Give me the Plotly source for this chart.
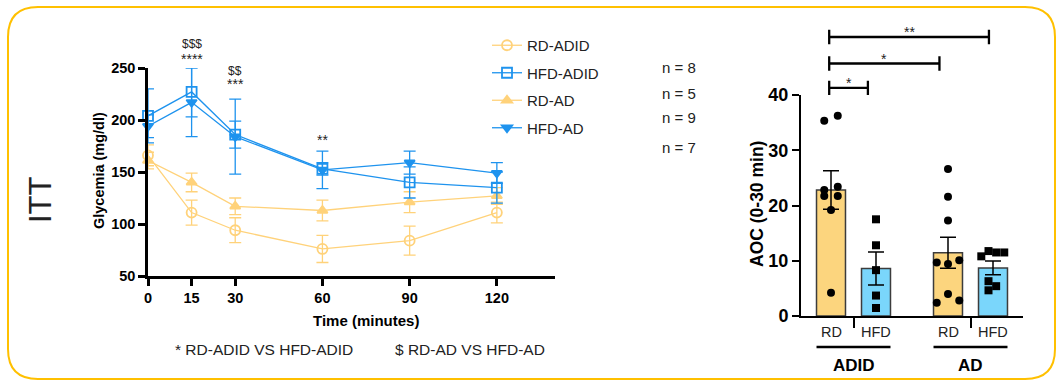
import plotly.graph_objects as go

# ---------------- data: ITT time course ----------------
time_min = [0, 15, 30, 60, 90, 120]
time_ticks = [0, 15, 30, 60, 90, 120]
glyc_ticks = [50, 100, 150, 200, 250]

rd_adid = [166, 111, 94, 76, 84, 111]
rd_adid_sem = [10, 12, 12, 13, 14, 10]
hfd_adid = [204, 227, 186, 153, 140, 135]
hfd_adid_sem = [26, 24, 13, 6, 15, 15]
rd_ad = [161, 140, 117, 113, 121, 127]
rd_ad_sem = [8, 9, 8, 10, 10, 8]
hfd_ad = [194, 217, 184, 152, 159, 149]
hfd_ad_sem = [11, 33, 36, 18, 11, 10]

series_names = ["RD-ADID", "HFD-ADID", "RD-AD", "HFD-AD"]
n_labels = ["n = 8", "n = 5", "n = 9", "n = 7"]

# significance marks above time points
sig_times = [15, 15, 30, 30, 60]
sig_text = ["****", "$$$", "***", "$$", "**"]

# ---------------- data: AOC bars ----------------
aoc_sub = ["RD", "HFD", "RD", "HFD"]
aoc_group = ["ADID", "AD"]
aoc_mean = [22.8, 8.6, 11.45, 8.7]
aoc_sem = [3.5, 3.0, 2.8, 1.25]
aoc_ticks = [0, 10, 20, 30, 40]
pts_rd_adid = [35.35, 36.25, 22.8, 23.4, 21.7, 21.7, 19.2, 4.2]
pts_hfd_adid = [17.5, 12.8, 8.3, 3.7, 1.45]
pts_rd_ad = [26.6, 21.6, 17.3, 9.7, 9.4, 10.1, 4.0, 2.4, 2.8]
pts_hfd_ad = [10.8, 11.75, 11.5, 11.5, 6.3, 5.4, 4.65]
brackets_text = ["**", "*", "*"]

# ---------------- styling / layout constants ----------------
FONT = "Arial, Liberation Sans, sans-serif"
ORANGE = "#FFD27A"
BLUE = "#1E93EE"
RD_FILL = "#FCD57E"
HFD_FILL = "#7AD6FB"
W, H = 1059, 381

bar_pos = [1, 2, 3.6, 4.6]
bar_width = 0.644
jit_rd_adid = [-0.15, 0.15, -0.15, 0.15, -0.15, 0.15, 0, 0]
jit_hfd_adid = [0, 0, 0, 0, 0]
jit_rd_ad = [0, 0, 0, -0.25, 0, 0.25, 0, -0.25, 0.25]
jit_hfd_ad = [-0.26, -0.10, 0.07, 0.25, -0.10, 0.07, -0.10]
bracket_x0 = 0.96
bracket_x1 = [4.51, 3.41, 1.82]
bracket_y = [50.5, 45.7, 41.3]
sig_y = [258.5, 273.5, 234.5, 247.5, 181]

xd1 = [148 / W, 555 / W]
yd1 = [1 - 276 / H, 1 - 68 / H]
xd2 = [801 / W, 1023 / W]
yd2 = [1 - 316 / H, 1 - 95 / H]
xr2 = [1 - 30 / 45, 1 + (1023 - 831) / 45]
yd3 = [0.70, 0.985]
per_paper = 40 / (yd2[1] - yd2[0])
yr3 = [(yd3[0] - yd2[0]) * per_paper, (yd3[1] - yd2[0]) * per_paper]


def y1paper(v):
    return yd1[0] + (v - 50) / 200 * (yd1[1] - yd1[0])


def x2paper(v):
    return xd2[0] + (v - xr2[0]) / (xr2[1] - xr2[0]) * (xd2[1] - xd2[0])


fig = go.Figure()

line_specs = [
    (rd_adid, rd_adid_sem, ORANGE, "circle-open", 10, 1),
    (rd_ad, rd_ad_sem, ORANGE, "triangle-up", 9, 3),
    (hfd_adid, hfd_adid_sem, BLUE, "square-open", 10, 2),
    (hfd_ad, hfd_ad_sem, BLUE, "triangle-down", 9, 4),
]
for vals, sem, col, sym, sz, rank in line_specs:
    nm = series_names[rank - 1]
    fig.add_trace(go.Scatter(
        x=time_min, y=vals, mode="lines+markers", name=nm,
        legendrank=rank, legendgroup=nm,
        line=dict(color=col, width=1.3),
        marker=dict(symbol=sym, size=sz, color=col, line=dict(color=col, width=1.8)),
        error_y=dict(type="data", array=sem, color=col, thickness=1.3, width=6),
        cliponaxis=False, xaxis="x", yaxis="y",
    ))

# bars
fig.add_trace(go.Bar(
    x=bar_pos, y=aoc_mean, width=bar_width,
    marker=dict(color=[RD_FILL, HFD_FILL, RD_FILL, HFD_FILL], line=dict(color="#3c3c3c", width=1.5)),
    error_y=dict(type="data", array=aoc_sem, color="black", thickness=1.5, width=8),
    showlegend=False, xaxis="x2", yaxis="y2",
))


def dots(vals, jit, base, sym):
    fig.add_trace(go.Scatter(
        x=[base + j for j in jit], y=vals, mode="markers",
        marker=dict(symbol=sym, size=8, color="black"),
        showlegend=False, cliponaxis=False, xaxis="x2", yaxis="y2",
    ))


dots(pts_rd_adid, jit_rd_adid, bar_pos[0], "circle")
dots(pts_hfd_adid, jit_hfd_adid, bar_pos[1], "square")
dots(pts_rd_ad, jit_rd_ad, bar_pos[2], "circle")
dots(pts_hfd_ad, jit_hfd_ad, bar_pos[3], "square")

# invisible trace to host bracket axes
fig.add_trace(go.Scatter(x=[None], y=[None], showlegend=False, xaxis="x3", yaxis="y3"))

shapes = []
annotations = []


def ann(text, x, y, size, xref="paper", yref="paper", xanchor="center", yanchor="middle",
        angle=0, color="#222"):
    annotations.append(dict(text=text, x=x, y=y, xref=xref, yref=yref, xanchor=xanchor,
                            yanchor=yanchor, textangle=angle, showarrow=False,
                            font=dict(family=FONT, size=size, color=color)))


# brackets
cap = 1.3
for txt, x1, yb in zip(brackets_text, bracket_x1, bracket_y):
    path = (f"M {bracket_x0},{yb - cap} L {bracket_x0},{yb + cap} M {bracket_x0},{yb} L {x1},{yb} "
            f"M {x1},{yb - cap} L {x1},{yb + cap}")
    shapes.append(dict(type="path", path=path, xref="x3", yref="y3", line=dict(color="black", width=2.3)))
    annotations.append(dict(text=txt, x=(bracket_x0 + x1) / 2, y=yb, xref="x3", yref="y3",
                            xanchor="center", yanchor="bottom", showarrow=False, yshift=-5,
                            font=dict(family=FONT, size=14, color="#222")))

# group underline + labels
for gi, g in enumerate(aoc_group):
    xa = bar_pos[2 * gi] - bar_width / 2
    xb = bar_pos[2 * gi + 1] + bar_width / 2
    shapes.append(dict(type="line", xref="paper", yref="paper", x0=x2paper(xa), x1=x2paper(xb),
                       y0=1 - 347 / H, y1=1 - 347 / H, line=dict(color="black", width=2.5)))
    ann(f"<b>{g}</b>", (bar_pos[2 * gi] + bar_pos[2 * gi + 1]) / 2, 1 - 365 / H, 17,
        xref="x2", color="black")
for xp, s in zip(bar_pos, aoc_sub):
    ann(s, xp, 1 - 332 / H, 14.5, xref="x2")

# significance marks on ITT
for tm, s, yv in zip(sig_times, sig_text, sig_y):
    ann(s, tm, y1paper(yv), 12 if "$" in s else 14, xref="x")

# n labels
for lbl, py in zip(n_labels, [67, 94, 117, 147]):
    ann(lbl, 660 / W, 1 - py / H, 15, xanchor="left")

# titles & notes
ann("ITT", 40 / W, 1 - 200 / H, 31, angle=-90)
ann("<b>Glycemia (mg/dl)</b>", 99 / W, 1 - 171 / H, 14.5, angle=-90, color="black")
ann("<b>Time (minutes)</b>", 366 / W, 1 - 320 / H, 15, color="black")
ann("<b>AOC (0-30 min)</b>", 757 / W, 1 - 204 / H, 17.5, angle=-90, color="black")
ann("* RD-ADID VS HFD-ADID", 173 / W, 1 - 349 / H, 15.5, xanchor="left")
ann("$ RD-AD VS HFD-AD", 393 / W, 1 - 349 / H, 15.5, xanchor="left")

# rounded frame
l, r, t, b = 8 / W, 1055 / W, 1 - 7 / H, 1 - 379 / H
rx, ry = 30 / W, 30 / H
frame = (f"M {l + rx},{t} L {r - rx},{t} Q {r},{t} {r},{t - ry} L {r},{b + ry} Q {r},{b} {r - rx},{b} "
         f"L {l + rx},{b} Q {l},{b} {l},{b + ry} L {l},{t - ry} Q {l},{t} {l + rx},{t} Z")
shapes.append(dict(type="path", path=frame, xref="paper", yref="paper",
                   line=dict(color="#FFC000", width=2)))

axis_common = dict(showgrid=False, zeroline=False, showline=True, linecolor="black",
                   ticks="outside", tickcolor="black", automargin=False)

fig.update_layout(
    width=W, height=H, margin=dict(l=0, r=0, t=0, b=0, pad=0, autoexpand=False),
    paper_bgcolor="white", plot_bgcolor="rgba(0,0,0,0)",
    font=dict(family=FONT, color="black"),
    xaxis=dict(domain=xd1, range=[0, 140], tickvals=time_ticks, anchor="y",
               linewidth=2.5, tickwidth=2.5, ticklen=7,
               tickfont=dict(family=FONT, size=14.5, weight="bold"), **axis_common),
    yaxis=dict(domain=yd1, range=[50, 250], tickvals=glyc_ticks, anchor="x",
               linewidth=2.5, tickwidth=2.5, ticklen=7,
               tickfont=dict(family=FONT, size=14.5, weight="bold"), **axis_common),
    xaxis2=dict(domain=xd2, range=xr2, tickvals=[1.5, 4.1], ticktext=["", ""], anchor="y2",
                linewidth=2, tickwidth=2, ticklen=10, **axis_common),
    yaxis2=dict(domain=yd2, range=[0, 40], tickvals=aoc_ticks, anchor="x2",
                linewidth=2, tickwidth=2, ticklen=7,
                tickfont=dict(family=FONT, size=18, weight="bold"), **axis_common),
    xaxis3=dict(domain=xd2, range=xr2, visible=False, anchor="y3"),
    yaxis3=dict(domain=yd3, range=yr3, visible=False, anchor="x3"),
    legend=dict(x=487 / W, xanchor="left", y=1 - 29 / H, yanchor="top",
                traceorder="grouped", tracegroupgap=5, bgcolor="rgba(0,0,0,0)",
                font=dict(family=FONT, size=15, color="#222")),
    shapes=shapes, annotations=annotations,
)

fig.write_html("out.html")
